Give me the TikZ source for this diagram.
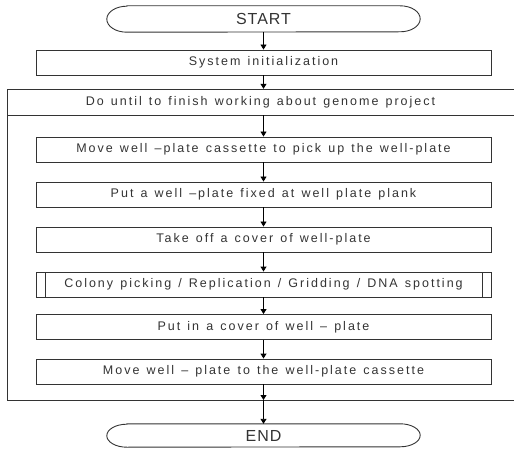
\documentclass[tikz,border=0pt]{standalone}
\usepackage{fontspec}
\setmainfont{Liberation Sans}[LetterSpace=16, WordSpace=1.3]
\newfontfamily\termfont{Liberation Sans}[LetterSpace=6]
\usetikzlibrary{arrows.meta}
\tikzset{
  ln/.style={draw=black!80, line width=0.9pt},
  box/.style={ln, minimum width=455pt, minimum height=25pt, inner sep=0pt, font=\fontsize{12.5}{14}\selectfont, text=black!80},
  term/.style={minimum width=313pt, inner sep=0pt, font=\termfont\fontsize{16}{18}\selectfont, text=black!80},
  arr/.style={draw=black, line width=0.9pt, -{Triangle[length=5pt,width=6pt]}},
  hdr/.style={minimum width=507pt, minimum height=26pt, inner sep=0pt, font=\fontsize{12.5}{14}\selectfont, text=black!80},
}
\begin{document}
\begin{tikzpicture}[x=1pt,y=-1pt]
\useasboundingbox (0,0) rectangle (514,449);
% terminals
\node[term, minimum height=26pt] (start) at (263.5,19) {START};
\draw[ln] ([xshift=20pt]start.north west) -- ([xshift=-20pt]start.north east)
  arc(90:-90:20pt and 13pt) -- ([xshift=20pt]start.south west) arc(270:90:20pt and 13pt) -- cycle;
\node[term, minimum height=23pt] (end) at (263.5,435.5) {END};
\draw[ln] ([xshift=20pt]end.north west) -- ([xshift=-20pt]end.north east)
  arc(90:-90:20pt and 11.5pt) -- ([xshift=20pt]end.south west) arc(270:90:20pt and 11.5pt) -- cycle;
% boxes
\node[box] (sys) at (263.5,62.5) {System initialization};
\node[hdr] (hdr) at (260.5,102) {Do until to finish working about genome project};
\draw[ln] (514,89) -- (7,89) -- (7,400) -- (514,400);
\draw[ln] (7,115) -- (514,115);
\coordinate (lb) at (263.5,400);
\node[box] (b1) at (263.5,149.5) {Move well –plate cassette to pick up the well-plate};
\node[box] (b2) at (263.5,194.5) {Put a well –plate fixed at well plate plank};
\node[box] (b3) at (263.5,239.5) {Take off a cover of well-plate};
\node[box] (b4) at (263.5,284.5) {Colony picking / Replication / Gridding / DNA spotting};
\draw[ln] (45,272) -- (45,297) (482,272) -- (482,297);
\node[box] (b5) at (263.5,327) {Put in a cover of well – plate};
\node[box] (b6) at (263.5,371.5) {Move well – plate to the well-plate cassette};
% arrows
\draw[arr] (start.south) -- (sys.north);
\draw[arr] (sys.south) -- (hdr.north -| sys.south);
\draw[arr] (hdr.south -| b1.north) -- (b1.north);
\draw[arr] (b1) -- (b2);
\draw[arr] (b2) -- (b3);
\draw[arr] (b3) -- (b4);
\draw[arr] (b4) -- (b5);
\draw[arr] (b5) -- (b6);
\draw[arr] (b6.south) -- (lb);
\draw[arr] (lb) -- (end.north);
\end{tikzpicture}
\end{document}
